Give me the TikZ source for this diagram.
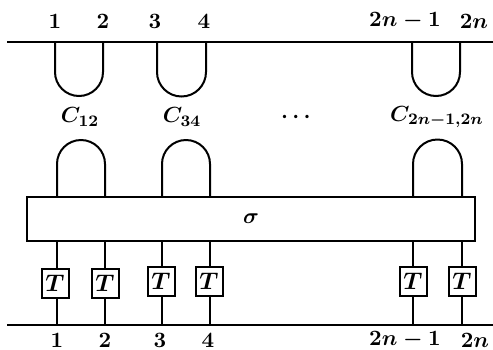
\documentclass[tikz,border=0pt]{standalone}
\usepackage{amsmath}
\tikzset{
  lab/.style={font=\fontsize{11}{13}\selectfont\boldmath, inner sep=0pt},
  wire/.style={line width=1pt},
  tbox/.style={draw, line width=1pt, fill=white, minimum width=13.5pt, minimum height=14.5pt, inner sep=0pt, font=\fontsize{11.5}{13}\selectfont\boldmath},
  sigbox/.style={draw, line width=1pt, minimum width=224pt, minimum height=22pt, inner sep=0pt, font=\fontsize{11}{13}\selectfont\boldmath}
}
\begin{document}
\begin{tikzpicture}[x=0.5pt,y=-0.5pt]
\useasboundingbox (0,0) rectangle (493,349);
% lines
\coordinate (tl) at (7,42); \coordinate (tr) at (493,42);
\coordinate (bl) at (7,325); \coordinate (br) at (493,325);
\draw[wire] (tl) -- (tr);
\draw[wire] (bl) -- (br);
% top labels
\node[lab] (t1) at (55,21) {$1$};
\node[lab] (t2) at (103,21) {$2$};
\node[lab] (t3) at (155,21) {$3$};
\node[lab] (t4) at (204,21) {$4$};
\node[lab] (t5) at (405,21) {$2n-1$};
\node[lab] (t6) at (474,21) {$2n$};
% cups
\coordinate (c1) at (55,42); \coordinate (c2) at (103,42);
\coordinate (c3) at (157,42); \coordinate (c4) at (206,42);
\coordinate (c5) at (412,42); \coordinate (c6) at (460,42);
\draw[wire] (c1) -- ++(0,30) arc (180:0:24) -- (c2);
\draw[wire] (c3) -- ++(0,30) arc (180:0:24.5) -- (c4);
\draw[wire] (c5) -- ++(0,30) arc (180:0:24) -- (c6);
% C labels
\node[lab] (C12) at (80,117) {$C_{12}$};
\node[lab] (C34) at (182,117) {$C_{34}$};
\node[lab] (dots) at (298,117) {$\cdots$};
\node[lab] (Cn) at (437,117) {$C_{2n-1,2n}$};
% sigma box
\node[sigbox] (sig) at (251,219) {$\sigma$};
% wire coords
\coordinate (w1) at (57,0); \coordinate (w2) at (105,0);
\coordinate (w3) at (162,0); \coordinate (w4) at (210,0);
\coordinate (w5) at (413,0); \coordinate (w6) at (462,0);
% caps
\draw[wire] (sig.north -| w1) -- ++(0,-32) arc (180:360:24) -- (sig.north -| w2);
\draw[wire] (sig.north -| w3) -- ++(0,-32) arc (180:360:24) -- (sig.north -| w4);
\draw[wire] (sig.north -| w5) -- ++(0,-32) arc (180:360:24.5) -- (sig.north -| w6);
% T boxes
\node[tbox] (T1) at (55,283) {$T$};
\node[tbox] (T2) at (105,283) {$T$};
\node[tbox] (T3) at (161,281) {$T$};
\node[tbox] (T4) at (209,281) {$T$};
\node[tbox] (T5) at (413,281) {$T$};
\node[tbox] (T6) at (462,281) {$T$};
\foreach \i in {1,...,6} {
  \draw[wire] (sig.south -| w\i) -- (T\i.north -| w\i);
  \draw[wire] (T\i.south -| w\i) -- (bl -| w\i);
}
% bottom labels
\node[lab] (b1) at (57,340) {$1$};
\node[lab] (b2) at (105,340) {$2$};
\node[lab] (b3) at (160,340) {$3$};
\node[lab] (b4) at (208,340) {$4$};
\node[lab] (b5) at (405,340) {$2n-1$};
\node[lab] (b6) at (475,340) {$2n$};
\end{tikzpicture}
\end{document}
